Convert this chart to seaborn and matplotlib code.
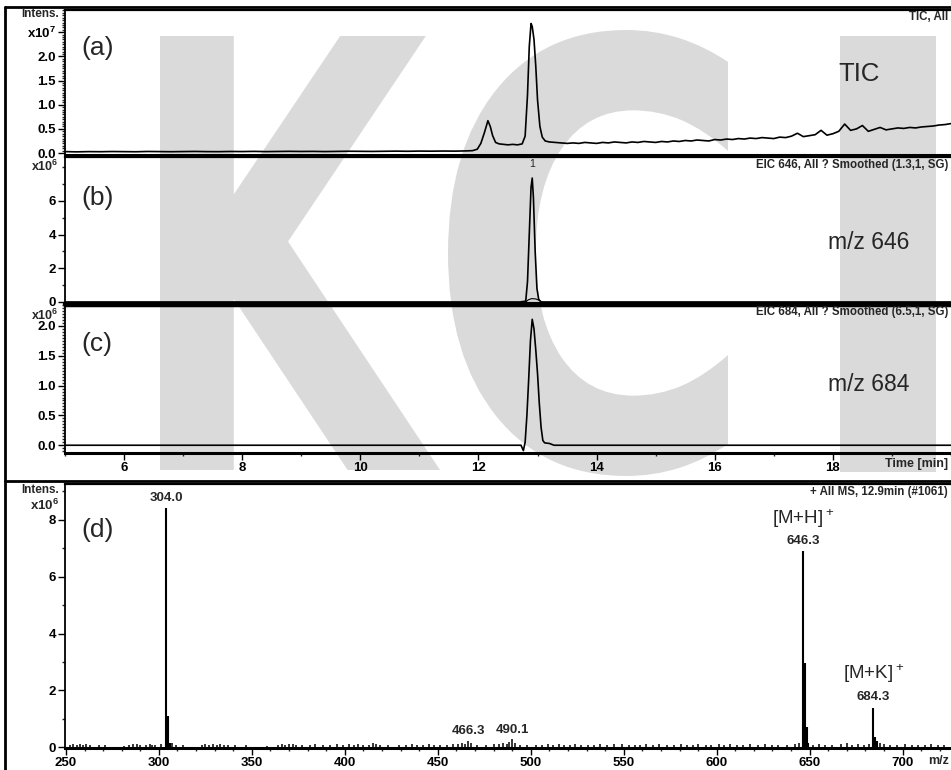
import numpy as np
import pandas as pd
import matplotlib.pyplot as plt
import seaborn as sns
from matplotlib.lines import Line2D
from matplotlib.textpath import TextPath
from matplotlib.patches import PathPatch
from matplotlib.font_manager import FontProperties
from matplotlib.transforms import Affine2D
from matplotlib.ticker import MultipleLocator

# ---- data (TIC in x1e7, EIC / MS in x1e6) ----
tic_time = [5.0, 5.2, 5.4, 5.6, 5.8, 6.0, 6.2, 6.4, 6.6, 6.8,
            7.0, 7.2, 7.4, 7.6, 7.8, 8.0, 8.2, 8.4, 8.6, 8.8,
            9.0, 9.2, 9.4, 9.6, 9.8, 10.0, 10.2, 10.4, 10.6, 10.8,
            11.0, 11.2, 11.4, 11.6, 11.8,
            11.9, 11.98, 12.04, 12.1, 12.16, 12.2, 12.24, 12.29, 12.35, 12.42,
            12.5, 12.58, 12.66, 12.74, 12.79, 12.83, 12.86, 12.89, 12.91, 12.94,
            12.97, 13.0, 13.04, 13.08, 13.13, 13.2,
            13.3, 13.4, 13.5, 13.6, 13.7, 13.8, 13.9, 14.0, 14.1, 14.2,
            14.3, 14.4, 14.5, 14.6, 14.7, 14.8, 14.9, 15.0, 15.1, 15.2,
            15.3, 15.4, 15.5, 15.6, 15.7, 15.8, 15.9, 16.0, 16.1, 16.2,
            16.3, 16.4, 16.5, 16.6, 16.7, 16.8, 16.9, 17.0, 17.1, 17.2,
            17.3, 17.4, 17.5, 17.6, 17.7, 17.8, 17.9, 18.0, 18.1, 18.2,
            18.3, 18.4, 18.5, 18.6, 18.7, 18.8, 18.9, 19.0, 19.1, 19.2,
            19.3, 19.4, 19.5, 19.6, 19.7, 19.8, 19.9, 20.0]
tic_int = [0.03, 0.025, 0.03, 0.028, 0.032, 0.03, 0.027, 0.033, 0.03, 0.028,
           0.031, 0.034, 0.03, 0.029, 0.033, 0.031, 0.035, 0.03, 0.032, 0.036,
           0.033, 0.035, 0.031, 0.034, 0.038, 0.036, 0.034, 0.038, 0.04, 0.037,
           0.041, 0.039, 0.042, 0.04, 0.045,
           0.05, 0.08, 0.2, 0.42, 0.67, 0.55, 0.36, 0.22, 0.19, 0.18,
           0.17, 0.18, 0.17, 0.19, 0.35, 1.2, 2.2, 2.68, 2.62, 2.35,
           1.8, 1.1, 0.55, 0.33, 0.25, 0.23,
           0.22, 0.21, 0.2, 0.21, 0.2, 0.22, 0.21, 0.2, 0.22, 0.21,
           0.23, 0.22, 0.21, 0.23, 0.22, 0.24, 0.23, 0.22, 0.24, 0.23,
           0.25, 0.24, 0.26, 0.25, 0.27, 0.26, 0.25, 0.28, 0.27, 0.29,
           0.28, 0.3, 0.29, 0.31, 0.3, 0.32, 0.31, 0.3, 0.33, 0.32,
           0.35, 0.41, 0.34, 0.36, 0.38, 0.47, 0.37, 0.4, 0.45, 0.6,
           0.47, 0.5, 0.57, 0.45, 0.49, 0.53, 0.48, 0.5, 0.52, 0.51,
           0.53, 0.52, 0.54, 0.55, 0.56, 0.58, 0.59, 0.61]

eic646_time = [5.0, 12.7, 12.8, 12.83, 12.86, 12.89, 12.91, 12.93, 12.96, 12.99, 13.02, 13.06, 20.0]
eic646_int = [0.0, 0.0, 0.05, 1.2, 4.0, 6.8, 7.35, 6.2, 3.0, 0.8, 0.15, 0.0, 0.0]
eic646_base_time = [12.8, 12.84, 12.9, 12.97, 13.03, 13.06]
eic646_base_int = [0.0, 0.12, 0.2, 0.18, 0.1, 0.0]

eic684_time = [5.0, 12.72, 12.76, 12.79, 12.82, 12.85, 12.88, 12.91, 12.94, 12.97,
               13.0, 13.03, 13.06, 13.09, 13.12, 13.2, 13.28, 20.0]
eic684_int = [0.0, 0.0, -0.09, 0.05, 0.5, 1.1, 1.75, 2.11, 1.95, 1.6,
              1.2, 0.7, 0.3, 0.08, 0.04, 0.03, 0.0, 0.0]

peak_mz = [304.0, 305.0, 306.0, 646.3, 647.3, 648.3, 649.3, 684.3, 685.3, 686.3]
peak_int = [8.41, 1.1, 0.15, 6.9, 2.95, 0.7, 0.15, 1.4, 0.35, 0.22]

noise_mz = [252, 254, 256, 257.5, 259, 261, 263, 268, 271, 281,
            284, 286, 288, 290, 293, 295, 296.5, 298, 301, 307,
            309, 313, 323, 325, 327, 329, 331, 333, 335, 337,
            341, 347, 358, 364, 366, 368, 370, 372, 374, 377,
            381, 384, 388, 392, 396, 399, 402, 405, 407, 410,
            413, 415, 417, 419, 423, 429, 433, 436, 439, 442,
            445, 448, 451, 455, 458, 461, 463, 464.5, 466.3, 468,
            471, 476, 480, 483, 485, 487, 488.5, 490.1, 491.5, 494,
            498, 503, 506, 509, 512, 515, 518, 521, 524, 527,
            531, 534, 537, 541, 545, 549, 553, 556, 559, 562,
            566, 569, 573, 577, 581, 584, 587, 590, 594, 597,
            601, 604, 607, 611, 614, 618, 622, 626, 630, 633,
            638, 642, 644, 652, 655, 658, 662, 667, 670, 673,
            676, 679, 682, 688, 690, 693, 697, 701, 705, 708,
            712, 715, 719, 722]
noise_int = [0.10, 0.12, 0.08, 0.11, 0.09, 0.13, 0.07, 0.10, 0.08, 0.06,
             0.09, 0.11, 0.12, 0.08, 0.10, 0.13, 0.09, 0.07, 0.12, 0.15,
             0.10, 0.08, 0.09, 0.11, 0.10, 0.12, 0.09, 0.11, 0.08, 0.10,
             0.07, 0.09, 0.06, 0.10, 0.12, 0.09, 0.11, 0.13, 0.10, 0.08,
             0.09, 0.11, 0.07, 0.10, 0.12, 0.09, 0.11, 0.10, 0.13, 0.08,
             0.10, 0.14, 0.12, 0.09, 0.07, 0.10, 0.08, 0.11, 0.09, 0.10,
             0.12, 0.08, 0.10, 0.09, 0.11, 0.13, 0.15, 0.12, 0.24, 0.14,
             0.09, 0.08, 0.11, 0.13, 0.15, 0.12, 0.18, 0.29, 0.16, 0.10,
             0.08, 0.10, 0.09, 0.11, 0.08, 0.12, 0.10, 0.09, 0.11, 0.08,
             0.10, 0.09, 0.12, 0.08, 0.11, 0.13, 0.09, 0.10, 0.08, 0.11,
             0.09, 0.12, 0.10, 0.08, 0.11, 0.09, 0.10, 0.12, 0.08, 0.10,
             0.11, 0.09, 0.13, 0.10, 0.08, 0.11, 0.09, 0.12, 0.10, 0.08,
             0.10, 0.12, 0.15, 0.09, 0.11, 0.08, 0.10, 0.12, 0.14, 0.09,
             0.11, 0.10, 0.12, 0.15, 0.13, 0.10, 0.09, 0.11, 0.08, 0.10,
             0.09, 0.11, 0.08, 0.10]

label_mz = [304.0, 646.3, 684.3, 466.3, 490.1]
label_txt = ["304.0", "646.3", "684.3", "466.3", "490.1"]
label_y = [8.55, 7.05, 1.55, 0.35, 0.4]

sns.set_theme(style="ticks")
plt.rcParams['font.family'] = ['Liberation Sans', 'DejaVu Sans']
plt.rcParams['mathtext.default'] = 'regular'

W, H = 951, 770
fig = plt.figure(figsize=(W / 100, H / 100), dpi=100)
fig.patch.set_facecolor("white")


def box(x0, y0, x1, y1):
    return [x0 / W, 1 - y1 / H, (x1 - x0) / W, (y1 - y0) / H]


def ftext(x, y, s, **kw):
    fig.text(x / W, 1 - y / H, s, **kw)


# watermark letters, stretched into boxes (pixel coords, top based)
wm_prop = FontProperties(family="DejaVu Sans", weight="bold")
for letter, (x0, y0, x1, y1) in [("K", (160, 36, 440, 470)),
                                 ("C", (448, 30, 728, 476)),
                                 ("I", (840, 36, 936, 472))]:
    tp = TextPath((0, 0), letter, size=1, prop=wm_prop)
    ext = tp.get_extents()
    sx = (x1 - x0) / W / ext.width
    sy = (y1 - y0) / H / ext.height
    tr = Affine2D().translate(-ext.x0, -ext.y0).scale(sx, sy).translate(x0 / W, 1 - y1 / H)
    fig.add_artist(PathPatch(tr.transform_path(tp), facecolor="#dadada",
                             edgecolor="none", transform=fig.transFigure, zorder=-5))

ax_a = fig.add_axes(box(65, 10, 951, 155))
ax_b = fig.add_axes(box(65, 157, 951, 304))
ax_c = fig.add_axes(box(65, 305, 951, 453))
ax_d = fig.add_axes(box(65, 484, 951, 748))

for ax in [ax_a, ax_b, ax_c, ax_d]:
    ax.set_facecolor("none")
    ax.spines["right"].set_visible(False)
    ax.spines["left"].set_linewidth(1.3)
    ax.spines["top"].set_linewidth(1.6)
    ax.spines["bottom"].set_linewidth(2.2)
    for s in ax.spines.values():
        s.set_color("black")
    ax.tick_params(which="major", direction="out", length=5, width=1, labelsize=9.5, pad=1.5, colors="black")
    ax.tick_params(which="minor", direction="out", length=2.5, width=1)
    ax.set_xlabel("")
    ax.set_ylabel("")

# chromatograms
sns.lineplot(x=tic_time, y=tic_int, ax=ax_a, color="black", linewidth=1.2)
sns.lineplot(x=eic646_time, y=eic646_int, ax=ax_b, color="black", linewidth=1.2)
sns.lineplot(x=eic646_base_time, y=eic646_base_int, ax=ax_b, color="black", linewidth=0.8)
sns.lineplot(x=eic684_time, y=eic684_int, ax=ax_c, color="black", linewidth=1.2)

for ax in [ax_a, ax_b, ax_c]:
    ax.set_xlim(5, 20)
    ax.xaxis.set_major_locator(MultipleLocator(2))
    ax.xaxis.set_minor_locator(MultipleLocator(1))
for ax in [ax_a, ax_b]:
    ax.tick_params(axis="x", which="both", bottom=False, labelbottom=False)

ax_a.set_ylim(-0.04, 2.96)
ax_a.set_yticks([0, 0.5, 1.0, 1.5, 2.0, 2.5])
ax_a.set_yticklabels(["0.0", "0.5", "1.0", "1.5", "2.0", "x10$^7$"], fontweight="bold")
ax_a.yaxis.set_minor_locator(MultipleLocator(0.05))

ax_b.set_ylim(-0.12, 8.6)
ax_b.set_yticks([0, 2, 4, 6])
ax_b.set_yticklabels(["0", "2", "4", "6"], fontweight="bold")
ax_b.yaxis.set_minor_locator(MultipleLocator(1))
ax_b.spines["bottom"].set_linewidth(3)
ax_b.text(12.91, 8.2, "1", ha="center", va="center", fontsize=7.5)

ax_c.set_ylim(-0.13, 2.35)
ax_c.set_yticks([0, 0.5, 1.0, 1.5, 2.0])
ax_c.set_yticklabels(["0.0", "0.5", "1.0", "1.5", "2.0"], fontweight="bold")
ax_c.yaxis.set_minor_locator(MultipleLocator(0.05))
ax_c.set_xticks([6, 8, 10, 12, 14, 16, 18])
ax_c.set_xticklabels(["6", "8", "10", "12", "14", "16", "18"], fontweight="bold")
ax_c.spines["top"].set_linewidth(2.5)

# mass spectrum
ax_d.vlines(noise_mz, 0, noise_int, color="black", linewidth=1.1)
ax_d.vlines(peak_mz, 0, peak_int, color="black", linewidth=1.5)
ax_d.set_xlim(249.5, 726)
ax_d.set_ylim(-0.02, 9.25)
ax_d.set_xticks([250, 300, 350, 400, 450, 500, 550, 600, 650, 700])
ax_d.set_xticklabels(["250", "300", "350", "400", "450", "500", "550", "600", "650", "700"], fontweight="bold")
ax_d.xaxis.set_minor_locator(MultipleLocator(10))
ax_d.set_yticks([0, 2, 4, 6, 8])
ax_d.set_yticklabels(["0", "2", "4", "6", "8"], fontweight="bold")
ax_d.yaxis.set_minor_locator(MultipleLocator(1))
for mz, txt, yy in zip(label_mz, label_txt, label_y):
    ax_d.text(mz, yy, txt, ha="center", va="bottom", fontsize=9.5, fontweight="bold")
ax_d.text(646.3, 7.65, "[M+H]$^+$", ha="center", va="bottom", fontsize=13.5)
ax_d.text(684.3, 2.2, "[M+K]$^+$", ha="center", va="bottom", fontsize=13.5)

# panel labels and annotations
for ax, lab, yy in [(ax_a, "(a)", 0.74), (ax_b, "(b)", 0.72), (ax_c, "(c)", 0.735), (ax_d, "(d)", 0.826)]:
    ax.text(0.018, yy, lab, transform=ax.transAxes, ha="left", va="center", fontsize=19)
ax_a.text(0.873, 0.56, "TIC", transform=ax_a.transAxes, ha="left", va="center", fontsize=18.5)
ax_b.text(0.861, 0.415, "m/z 646", transform=ax_b.transAxes, ha="left", va="center", fontsize=16.5)
ax_c.text(0.861, 0.463, "m/z 684", transform=ax_c.transAxes, ha="left", va="center", fontsize=16.5)

ftext(948, 17, "TIC, All", ha="right", va="center", fontsize=8.3, fontweight="bold")
ftext(948, 165, "EIC 646, All ? Smoothed (1.3,1, SG)", ha="right", va="center", fontsize=8.3, fontweight="bold")
ftext(948, 312, "EIC 684, All ? Smoothed (6.5,1, SG)", ha="right", va="center", fontsize=8.3, fontweight="bold")
ftext(948, 492, "+ All MS, 12.9min (#1061)", ha="right", va="center", fontsize=8.3, fontweight="bold")

ftext(59, 14, "Intens.", ha="right", va="center", fontsize=8.5, fontweight="bold")
ftext(59, 166, "x10$^6$", ha="right", va="center", fontsize=9, fontweight="bold")
ftext(59, 315, "x10$^6$", ha="right", va="center", fontsize=9, fontweight="bold")
ftext(59, 490, "Intens.", ha="right", va="center", fontsize=8.5, fontweight="bold")
ftext(59, 505, "x10$^6$", ha="right", va="center", fontsize=9.5, fontweight="bold")
ftext(948, 464, "Time [min]", ha="right", va="center", fontsize=9, fontweight="bold")
ftext(949, 761, "m/z", ha="right", va="center", fontsize=9, fontweight="bold")

# frame lines of the report
fig.add_artist(Line2D([5 / W, 1], [1 - 7 / H, 1 - 7 / H], color="black", linewidth=2, transform=fig.transFigure))
fig.add_artist(Line2D([5 / W, 5 / W], [0, 1 - 7 / H], color="black", linewidth=2, transform=fig.transFigure))
fig.add_artist(Line2D([5 / W, 1], [1 - 481 / H, 1 - 481 / H], color="black", linewidth=2, transform=fig.transFigure))

fig.savefig("out.png", dpi=100)
